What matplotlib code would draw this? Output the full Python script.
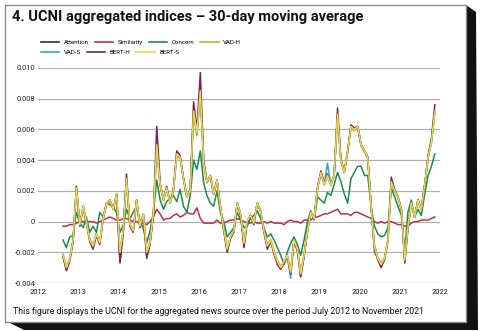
import matplotlib
matplotlib.use("Agg")
import matplotlib.pyplot as plt
from matplotlib.patches import Polygon, Rectangle
from matplotlib.lines import Line2D
import pandas as pd

# monthly 30-day moving average, Aug 2012 .. Nov 2021 (values in units of 1e-4)
months = pd.date_range("2012-08-01", "2021-11-01", freq="MS") + pd.Timedelta(days=14)
SCALE = 1e-4

attention = [-22, -31, -25, -12, 22, -2, 10, 0, -12, -17, -8, -14,
             2, 12, 14, 8, 18, -27, -5, 28, -2, -6, 14, -3,
             5, -22, -14, 5, 50, 24, 14, 22, 12, 20, 44, 42,
             28, 16, 20, 72, 58, 85, 38, 26, 30, 18, 27, 10,
             -5, -19, -10, -6, 12, 5, -15, 0, 4, -1, 12, 7,
             -6, -16, -12, -20, -26, -30, -26, -22, -33, -12, -18, -34,
             -22, -6, 6, 2, 22, 32, 24, 30, 24, 30, 70, 40,
             32, 46, 62, 60, 62, 50, 46, 42, 10, -16, -24, -28,
             -24, -12, 26, 20, 16, 8, -25, -4, 12, 3, 14, 8,
             24, 42, 52, 72]
similarity = [-3, -3, -2, -2, -1, 0, 0, 0, 0, 0, -1, 0,
              1, 2, 3, 2, 1, 1, 2, 2, 1, 0, 0, -1,
              -1, -2, 0, 3, 8, 5, 1, 2, 2, 4, 5, 3,
              4, 6, 5, 5, 9, 2, -1, -1, -1, -1, 1, -1,
              -1, 0, 1, 1, 2, 1, 0, -1, -1, 0, -1, -1,
              0, -1, 0, -1, -1, -1, -2, 0, 1, 0, 0, -1,
              1, 1, 1, 3, 3, 4, 5, 5, 6, 7, 8, 5,
              5, 5, 4, 6, 6, 5, 4, 3, 2, 0, -1, 0,
              -1, 0, 0, -1, -2, -2, -3, -3, -1, 0, 0, 1,
              1, 1, 2, 3]
concern = [-12, -17, -10, -9, 6, -1, -4, 3, -7, -3, -7, 6,
           3, 12, 11, 9, 6, -7, -2, 8, 2, 6, 10, 1,
           -5, -14, -6, 6, 27, 14, 8, 13, 15, 17, 13, 21,
           10, 6, 17, 40, 34, 46, 25, 17, 12, 10, 20, 6,
           0, -10, -7, -4, 6, 1, -4, -3, 2, 4, 7, 2,
           -4, -10, -8, -12, -17, -22, -28, -20, -14, -10, -15, -22,
           -12, 0, 7, 1, 16, 14, 12, 19, 17, 24, 32, 26,
           18, 12, 28, 32, 36, 36, 30, 30, 10, -3, -8, -10,
           -9, -4, 22, 16, 10, 4, -20, 6, 14, 3, 8, 4,
           18, 30, 36, 44]
vad_h = [-21, -29, -24, -12, 20, -2, 9, 0, -11, -15, -8, -13,
         2, 11, 13, 8, 17, -19, -5, 27, -2, -6, 13, -3,
         5, -19, -13, 5, 48, 23, 14, 21, 12, 19, 43, 41,
         27, 16, 20, 70, 56, 82, 37, 25, 29, 18, 26, 10,
         -5, -17, -10, -6, 11, 5, -13, 0, 4, -1, 11, 7,
         -6, -15, -12, -19, -25, -29, -26, -22, -32, -12, -18, -33,
         -21, -6, 6, 2, 21, 31, 24, 29, 24, 30, 68, 40,
         32, 45, 61, 59, 61, 49, 45, 41, 10, -15, -23, -27,
         -23, -12, 25, 20, 16, 8, -24, -4, 12, 3, 14, 8,
         23, 41, 51, 70]
vad_s = [-22, -30, -25, -12, 21, -2, 9, 0, -12, -16, -8, -14,
         2, 12, 14, 8, 18, -21, -5, 28, -2, -6, 14, -3,
         5, -20, -14, 5, 49, 24, 14, 22, 12, 20, 43, 42,
         28, 16, 20, 71, 57, 84, 38, 26, 30, 18, 27, 10,
         -5, -18, -10, -6, 12, 5, -14, 0, 4, -1, 12, 7,
         -6, -16, -12, -20, -26, -31, -26, -22, -37, -12, -18, -36,
         -22, -6, 6, 2, 22, 32, 24, 38, 24, 30, 69, 40,
         32, 46, 62, 60, 62, 50, 46, 42, 10, -20, -24, -28,
         -24, -12, 26, 20, 16, 8, -25, -4, 12, 3, 14, 8,
         24, 42, 52, 72]
bert_h = [-23, -32, -26, -13, 23, -3, 10, -1, -13, -18, -9, -15,
          2, 12, 14, 8, 18, -26, -6, 31, -3, -7, 14, -4,
          4, -24, -15, 5, 62, 25, 14, 23, 12, 21, 46, 43,
          28, 16, 21, 78, 60, 97, 40, 26, 30, 18, 27, 10,
          -6, -20, -11, -7, 12, 4, -17, -1, 4, -2, 12, 7,
          -7, -18, -13, -21, -28, -31, -27, -23, -34, -13, -19, -36,
          -23, -6, 6, 2, 22, 33, 25, 31, 24, 30, 74, 41,
          32, 46, 63, 61, 62, 50, 46, 42, 10, -17, -25, -30,
          -25, -12, 29, 21, 16, 8, -27, -5, 12, 3, 14, 8,
          24, 43, 54, 76]
bert_s = [-22, -30, -25, -12, 22, -2, 10, 0, -12, -16, -8, -14,
          2, 12, 14, 8, 18, -20, -5, 28, -2, -6, 14, -3,
          5, -20, -14, 6, 50, 24, 14, 22, 12, 20, 44, 42,
          28, 16, 20, 72, 58, 85, 38, 26, 30, 18, 27, 10,
          -5, -18, -10, -6, 12, 5, -14, 0, 4, -1, 12, 7,
          -6, -16, -12, -20, -26, -30, -26, -22, -33, -12, -18, -34,
          -22, -6, 6, 2, 22, 32, 24, 30, 24, 30, 70, 40,
          32, 46, 62, 60, 62, 50, 46, 42, 10, -16, -24, -28,
          -24, -12, 26, 20, 16, 8, -25, -4, 12, 3, 14, 8,
          24, 42, 52, 72]

names = ["Attention", "Similarity", "Concern", "VAD-H", "VAD-S", "BERT-H", "BERT-S"]
series = [attention, similarity, concern, vad_h, vad_s, bert_h, bert_s]
colors = ["#1c3556", "#b8344e", "#1e8a4e", "#e2a33c", "#34a9c2", "#7c2356", "#e9da4c"]

y_ticks = [-0.004, -0.002, 0, 0.002, 0.004, 0.006, 0.008, 0.010]
y_labels = ["-0.004", "-0.002", "0", "0.002", "0.004", "0.006", "0.008", "0.010"]
years = list(range(2012, 2023))

title = "4. UCNI aggregated indices \u2013 30-day moving average"
note = "This figure displays the UCNI for the aggregated news source over the period July 2012 to November 2021"

font = "Roboto"
W, H = 480, 331

fig = plt.figure(figsize=(4.8, 3.31), dpi=100)

def px(x, y):
    return (x / W, 1 - y / H)

# dark drop shadow behind the card
shadow = Polygon([px(466, 5), px(476, 12), px(478, 330), px(24, 330), px(8, 322), px(466, 322)],
                 closed=True, transform=fig.transFigure, facecolor="#111111", edgecolor="none", zorder=-2)
fig.patches.append(shadow)
card = Rectangle(px(5, 322), (466 - 5) / W, (322 - 5) / H, transform=fig.transFigure,
                 facecolor="white", edgecolor="#8a8a8a", linewidth=1.0, zorder=-1)
fig.patches.append(card)

ax = fig.add_axes([38 / W, 1 - 283 / H, 402 / W, (283 - 68) / H])
ax.set_facecolor("none")

for name, vals, c in zip(names, series, colors):
    ax.plot(months, [v * SCALE for v in vals], color=c, linewidth=1.1, label=name)

ax.set_xlim(pd.Timestamp("2012-01-01"), pd.Timestamp("2022-01-01"))
ax.set_ylim(-0.004, 0.010)
ax.set_yticks(y_ticks)
ax.set_yticklabels(y_labels)
ax.set_xticks([pd.Timestamp(f"{y}-01-01") for y in years])
ax.set_xticklabels([str(y) for y in years])
ax.grid(axis="y", color="#b0b0b0", linewidth=0.9)
ax.set_axisbelow(True)
for s in ax.spines.values():
    s.set_visible(False)
ax.tick_params(axis="y", length=0, labelsize=5.4, labelcolor="#222222", pad=2)
ax.tick_params(axis="x", length=0, labelsize=5.4, labelcolor="#222222", pad=4)
for lab in ax.get_xticklabels() + ax.get_yticklabels():
    lab.set_family(font)

# legend in two rows laid out like running text
handles = [Line2D([], [], color=c, linewidth=1.2) for c in colors]
leg_kw = dict(frameon=False, prop={"family": font, "size": 4.4}, handlelength=3.0,
              handletextpad=0.7, columnspacing=1.0, borderaxespad=0, borderpad=0)
leg1 = fig.legend(handles[:4], names[:4], ncol=4, loc="center left",
                  bbox_to_anchor=px(41, 42), **leg_kw)
leg2 = fig.legend(handles[4:], names[4:], ncol=3, loc="center left",
                  bbox_to_anchor=px(41, 52), **leg_kw)

fig.text(12 / W, 1 - 17 / H, title, ha="left", va="center", fontsize=10.5,
         fontweight="bold", family=font, color="#111111")
fig.text(13 / W, 1 - 312 / H, note, ha="left", va="center", fontsize=6.3,
         family=font, color="#111111")

fig.savefig("out.png", dpi=100)
